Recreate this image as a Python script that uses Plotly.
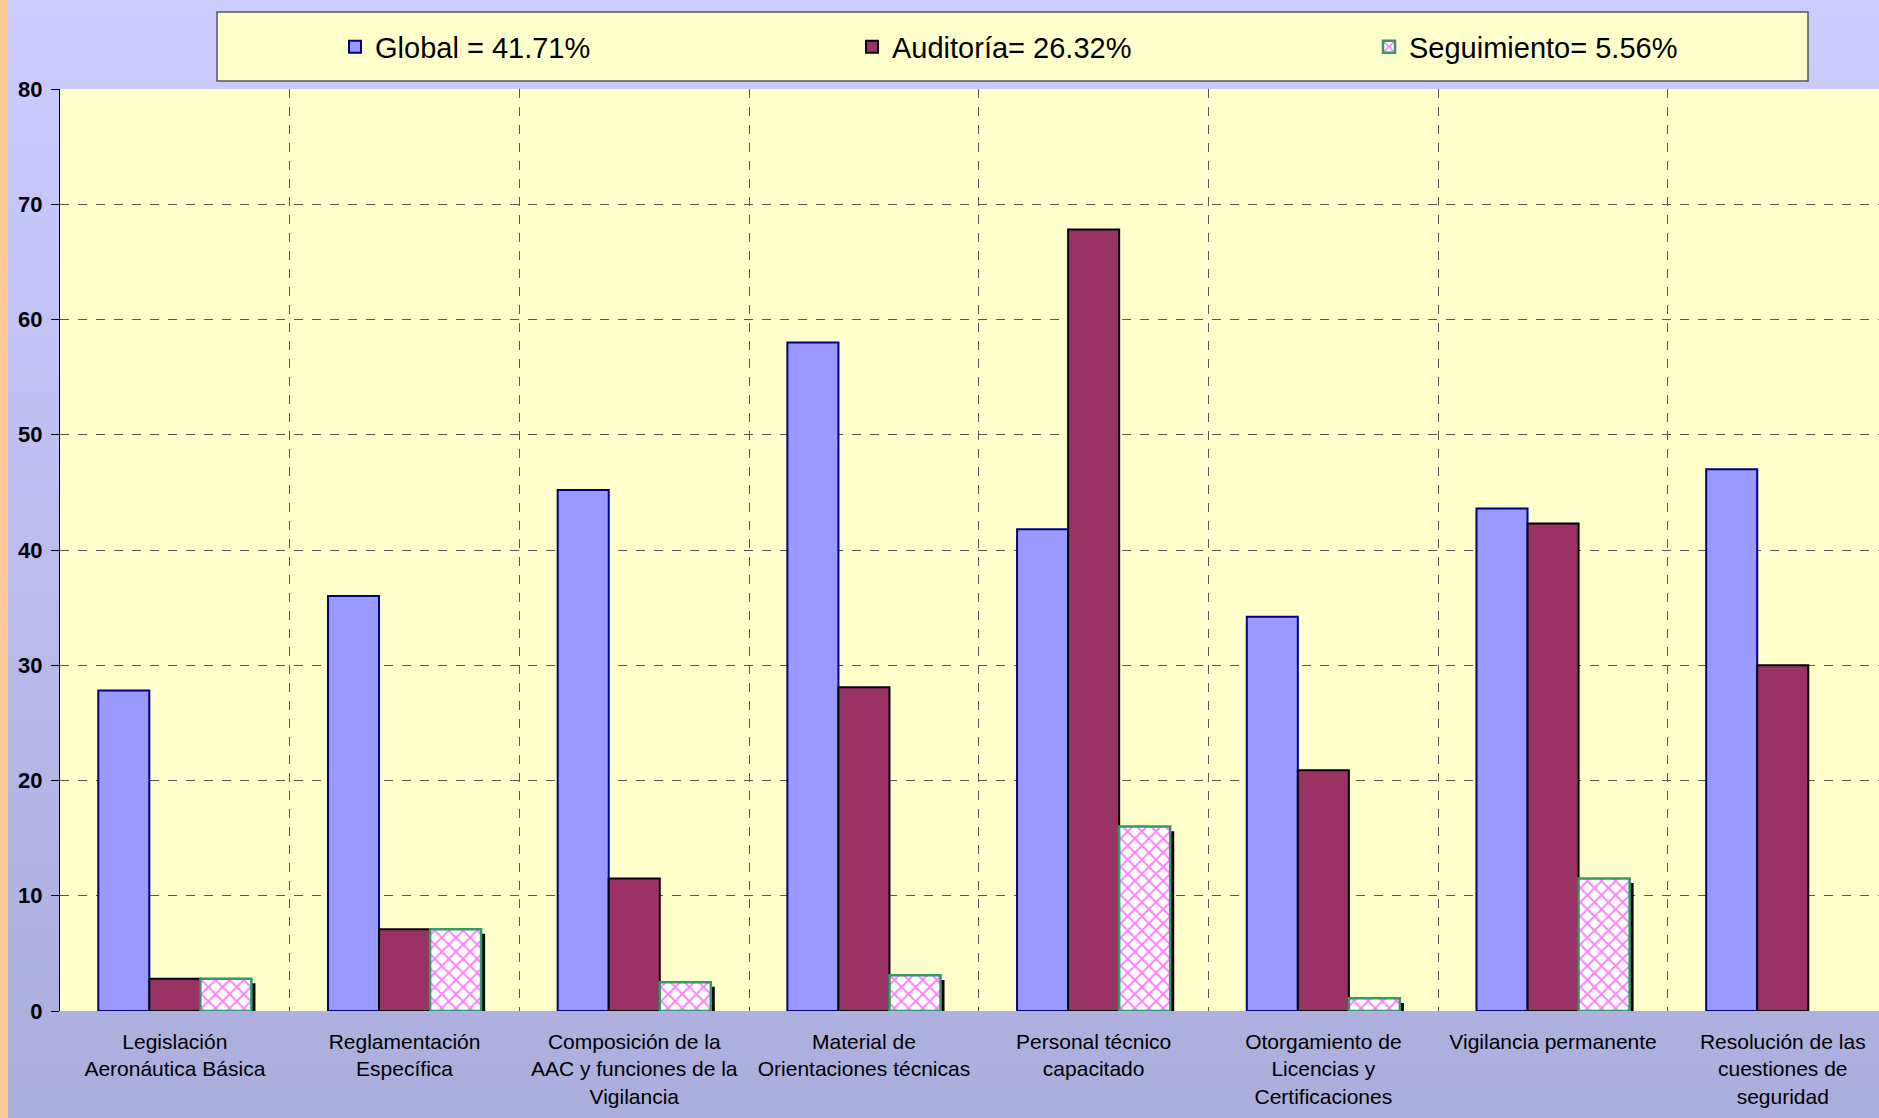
import base64
import plotly.graph_objects as go

categorias = [
    "Legislación<br>Aeronáutica Básica",
    "Reglamentación<br>Específica",
    "Composición de la<br>AAC y funciones de la<br>Vigilancia",
    "Material de<br>Orientaciones técnicas",
    "Personal técnico<br>capacitado",
    "Otorgamiento de<br>Licencias y<br>Certificaciones",
    "Vigilancia permanente",
    "Resolución de las<br>cuestiones de<br>seguridad",
]
global_vals = [27.8, 36.0, 45.2, 58.0, 41.8, 34.2, 43.6, 47.0]
auditoria_vals = [2.8, 7.1, 11.5, 28.1, 67.8, 20.9, 42.3, 30.0]
seguimiento_vals = [2.8, 7.1, 2.5, 3.1, 16.0, 1.1, 11.5, 0.0]
nombres = ["Global = 41.71%", "Auditoría= 26.32%", "Seguimiento= 5.56%"]
y_ticks = [0, 10, 20, 30, 40, 50, 60, 70, 80]

FONT = "Liberation Sans, Arial, sans-serif"
W, H = 1879, 1118
L, R, T, B = 60, 0, 89, 107
plot_w, plot_h = W - L - R, H - T - B
cat_px = 229.7

# background gradient for the whole page
svg = (
    f'<svg xmlns="http://www.w3.org/2000/svg" width="{W}" height="{H}">'
    '<defs><linearGradient id="g" x1="0" y1="0" x2="0" y2="1">'
    '<stop offset="0" stop-color="#CCCCFF"/><stop offset="1" stop-color="#ABADDB"/>'
    '</linearGradient></defs>'
    f'<rect width="{W}" height="{H}" fill="url(#g)"/>'
    f'<rect width="8" height="{H}" fill="#FFCC99"/></svg>'
)
bg_src = "data:image/svg+xml;base64," + base64.b64encode(svg.encode()).decode()

bw = 2 / 9
fig = go.Figure()
fig.add_trace(go.Bar(
    x=categorias, y=global_vals, name=nombres[0], width=bw, offset=-3 * bw / 2,
    marker=dict(color="#9999FF", line=dict(color="#000080", width=2)),
))
fig.add_trace(go.Bar(
    x=categorias, y=auditoria_vals, name=nombres[1], width=bw, offset=-bw / 2,
    marker=dict(color="#993366", line=dict(color="#000000", width=2)),
))
# drop shadow of the patterned bars
fig.add_trace(go.Bar(
    x=categorias, y=seguimiento_vals, base=-0.4, width=bw, offset=bw / 2 + 4 / cat_px,
    marker=dict(color="#000000", line=dict(width=0)), showlegend=False, hoverinfo="skip",
))
fig.add_trace(go.Bar(
    x=categorias, y=seguimiento_vals, name=nombres[2], width=bw, offset=bw / 2,
    marker=dict(color="white",
                line=dict(color="#339966", width=[2.5 if v > 0 else 0 for v in seguimiento_vals]),
                pattern=dict(shape="x", fgcolor="#FF00FF", bgcolor="white",
                             size=10, solidity=0.35)),
))

fig.update_layout(
    width=W, height=H,
    margin=dict(l=L, r=R, t=T, b=B, autoexpand=False),
    barmode="overlay",
    paper_bgcolor="#CCCCFF",
    plot_bgcolor="#FFFFCC",
    font=dict(family=FONT, color="black"),
    images=[dict(source=bg_src, xref="paper", yref="paper",
                 x=-L / plot_w, y=1 + T / plot_h, sizex=W / plot_w, sizey=H / plot_h,
                 xanchor="left", yanchor="top", sizing="stretch", layer="below")],
    shapes=[
        dict(type="rect", xref="paper", yref="paper", x0=0, x1=1, y0=0, y1=1,
             fillcolor="#FFFFCC", line=dict(width=0), layer="below"),
        dict(type="rect", xref="paper", yref="paper",
             x0=(217 - L) / plot_w, x1=(1808 - L) / plot_w,
             y0=(H - B - 81) / plot_h, y1=(H - B - 12) / plot_h,
             fillcolor="#FFFFCC", line=dict(color="#555555", width=1.5), layer="below"),
    ],
    legend=dict(
        orientation="h", x=(335 - L) / plot_w, xanchor="left",
        y=(H - B - 47) / plot_h, yanchor="middle",
        bgcolor="rgba(0,0,0,0)", borderwidth=0,
        entrywidth=472, entrywidthmode="pixels",
        font=dict(size=29, family=FONT, color="black"),
        traceorder="normal",
    ),
    xaxis=dict(
        range=[-0.5, -0.5 + plot_w / cat_px],
        tickson="boundaries", showgrid=True, griddash="dash",
        gridcolor="#555555", gridwidth=1, ticks="", showline=False,
        tickfont=dict(size=21, family=FONT, color="black"),
        ticklabelstandoff=16,
    ),
    yaxis=dict(
        range=[0, 80], tickvals=y_ticks, showgrid=True, griddash="dash",
        gridcolor="#555555", gridwidth=1, zeroline=False,
        showline=True, linecolor="#000000", linewidth=1,
        ticks="outside", ticklen=8, tickcolor="#000000",
        tickfont=dict(size=22, family=FONT, color="black", weight="bold"),
        ticklabelstandoff=4,
    ),
)

fig.write_html("out.html", config={"displayModeBar": False},
               post_script="document.body.style.margin='0';document.body.style.overflow='hidden';")
